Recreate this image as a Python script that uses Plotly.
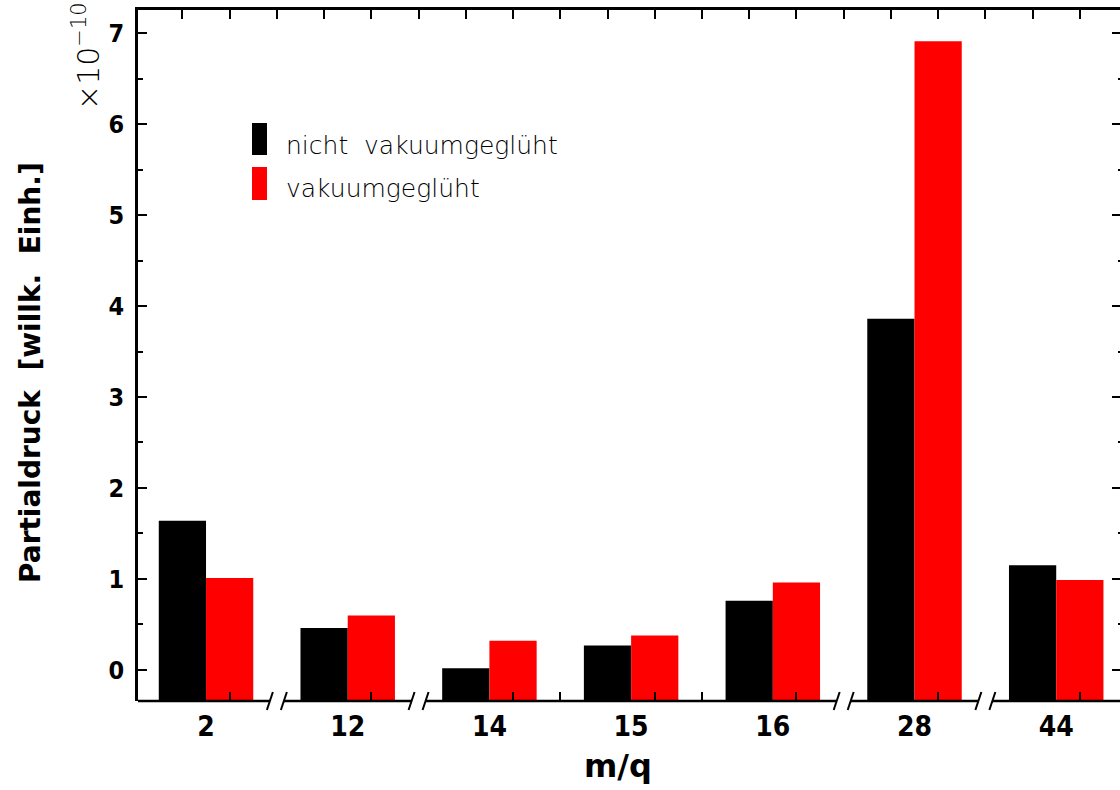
import plotly.graph_objects as go

# ---- data ----
categories = ["2", "12", "14", "15", "16", "28", "44"]
nicht_vakuumgegluht = [1.64, 0.46, 0.02, 0.27, 0.76, 3.86, 1.15]
vakuumgegluht = [1.01, 0.60, 0.32, 0.38, 0.96, 6.91, 0.99]
y_ticks = [0, 1, 2, 3, 4, 5, 6, 7]
series_names = ["nicht\u00a0\u00a0vakuumgeglüht", "vakuumgeglüht"]
exponent_label = "×10<sup>−10</sup>"

# ---- layout constants ----
W, H = 1120, 790
L, R, T, B = 138, 0, 10, 89
PW, PH = W - L - R, H - T - B
YMIN, YMAX = -0.341, 7.253
XMIN = -0.48
PX_PER_CAT = 141.7
XMAX = XMIN + PW / PX_PER_CAT

BOLD = "DejaVu Sans Condensed, Liberation Sans Narrow, Arial Narrow, sans-serif"
WIDE = "DejaVu Sans, Verdana, sans-serif"
THIN = "DejaVu Sans, sans-serif"

def px_x(px):
    return (px - L) / PW

def px_y(py):
    return (T + PH - py) / PH

xpos = list(range(len(categories)))

fig = go.Figure()
fig.add_trace(go.Bar(
    x=xpos, y=[v - YMIN for v in nicht_vakuumgegluht], base=YMIN,
    offset=-1/3, width=1/3, marker=dict(color="#000000", line=dict(width=0)),
    name=series_names[0], showlegend=False))
fig.add_trace(go.Bar(
    x=xpos, y=[v - YMIN for v in vakuumgegluht], base=YMIN,
    offset=0, width=1/3, marker=dict(color="#ff0000", line=dict(width=0)),
    name=series_names[1], showlegend=False))

# dummy traces to make overlay axes exist
fig.add_trace(go.Scatter(x=[None], y=[None], xaxis="x2", yaxis="y", showlegend=False, hoverinfo="skip"))
fig.add_trace(go.Scatter(x=[None], y=[None], xaxis="x3", yaxis="y", showlegend=False, hoverinfo="skip"))
fig.add_trace(go.Scatter(x=[None], y=[None], xaxis="x", yaxis="y2", showlegend=False, hoverinfo="skip"))

# minor tick positions along x (every third of a category)
all_ticks = [i / 3 - 1 / 6 for i in range(0, 21) if XMIN < i / 3 - 1 / 6 < XMAX]
# breaks between non-consecutive m/q values
cat_vals = [int(c) for c in categories]
breaks = [i + 0.5 for i in range(len(cat_vals) - 1) if cat_vals[i + 1] - cat_vals[i] > 1]
bottom_ticks = [t for t in all_ticks if all(abs(t - b) > 1e-6 for b in breaks)]

LW = 2.5
fig.update_layout(
    width=W, height=H,
    margin=dict(l=L, r=R, t=T, b=B),
    paper_bgcolor="white", plot_bgcolor="white",
    barmode="overlay",
    showlegend=False,
    xaxis=dict(range=[XMIN, XMAX], tickmode="array", tickvals=xpos, ticktext=categories,
               ticks="", showline=False, showgrid=False, zeroline=False,
               tickfont=dict(family=BOLD, size=28, color="black", weight="bold"),
               ticklabelstandoff=6, fixedrange=True),
    xaxis2=dict(range=[XMIN, XMAX], overlaying="x", anchor="y", side="bottom",
                tickmode="array", tickvals=bottom_ticks, ticks="inside", ticklen=9, tickwidth=2,
                tickcolor="black", showticklabels=False, showline=False, showgrid=False,
                zeroline=False, fixedrange=True),
    xaxis3=dict(range=[XMIN, XMAX], overlaying="x", anchor="y", side="top",
                tickmode="array", tickvals=all_ticks, ticks="inside", ticklen=9, tickwidth=2,
                tickcolor="black", showticklabels=False, showline=True, linecolor="black",
                linewidth=LW, showgrid=False, zeroline=False, fixedrange=True),
    yaxis=dict(range=[YMIN, YMAX], tickmode="array", tickvals=y_ticks,
               ticktext=[str(v) for v in y_ticks], ticks="inside", ticklen=9, tickwidth=2,
               tickcolor="black", minor=dict(dtick=0.5, tick0=0, ticks="inside", ticklen=5,
                                             tickwidth=2, tickcolor="black", showgrid=False),
               showline=True, linecolor="black", linewidth=LW, showgrid=False, zeroline=False,
               tickfont=dict(family=BOLD, size=25, color="black", weight="bold"),
               ticklabelstandoff=6, fixedrange=True),
    yaxis2=dict(range=[YMIN, YMAX], overlaying="y", anchor="x", side="right",
                tickmode="array", tickvals=y_ticks, ticks="inside", ticklen=8, tickwidth=2,
                tickcolor="black", minor=dict(dtick=0.5, tick0=0, ticks="inside", ticklen=2,
                                              tickwidth=2, tickcolor="black", showgrid=False),
                showticklabels=False, showline=True, linecolor="black", linewidth=LW,
                showgrid=False, zeroline=False, fixedrange=True),
)

# bottom axis line with breaks
shapes = []
seg_start = XMIN
slash_dx = 7 / PX_PER_CAT
slash_w = 3 / PX_PER_CAT
y_lo, y_hi = px_y(710), px_y(692)
for b in breaks:
    c1, c2 = b - slash_dx, b + slash_dx
    shapes.append(dict(type="line", xref="x", yref="paper", x0=seg_start, x1=c1, y0=0, y1=0,
                       line=dict(color="black", width=LW)))
    for c in (c1, c2):
        shapes.append(dict(type="line", xref="x", yref="paper", x0=c - slash_w, x1=c + slash_w,
                           y0=y_lo, y1=y_hi, line=dict(color="black", width=2)))
    seg_start = c2
shapes.append(dict(type="line", xref="x", yref="paper", x0=seg_start, x1=XMAX, y0=0, y1=0,
                   line=dict(color="black", width=LW)))

# legend markers
shapes.append(dict(type="rect", xref="paper", yref="paper", x0=px_x(252), x1=px_x(267),
                   y0=px_y(155), y1=px_y(123), fillcolor="#000000", line=dict(width=0)))
shapes.append(dict(type="rect", xref="paper", yref="paper", x0=px_x(252), x1=px_x(267),
                   y0=px_y(200), y1=px_y(167), fillcolor="#ff0000", line=dict(width=0)))
fig.update_layout(shapes=shapes)

annotations = [
    dict(text=series_names[0], xref="paper", yref="paper", x=px_x(284), y=px_y(145),
         xanchor="left", yanchor="middle", showarrow=False,
         font=dict(family=THIN, size=25, color="black", weight=300)),
    dict(text=series_names[1], xref="paper", yref="paper", x=px_x(284), y=px_y(188),
         xanchor="left", yanchor="middle", showarrow=False,
         font=dict(family=THIN, size=25, color="black", weight=300)),
    dict(text=exponent_label, xref="paper", yref="paper", x=px_x(86), y=px_y(56),
         xanchor="center", yanchor="middle", textangle=-90, showarrow=False,
         font=dict(family=THIN, size=30, color="black", weight=300)),
    dict(text="Partialdruck\u00a0\u00a0[willk.\u00a0\u00a0Einh.]", xref="paper", yref="paper",
         x=px_x(30), y=px_y(373), xanchor="center", yanchor="middle", textangle=-90,
         showarrow=False, font=dict(family=WIDE, size=28, color="black", weight="bold")),
    dict(text="m/q", xref="paper", yref="paper", x=px_x(618), y=px_y(766),
         xanchor="center", yanchor="middle", showarrow=False,
         font=dict(family=WIDE, size=32, color="black", weight="bold")),
]
fig.update_layout(annotations=annotations)

fig.write_html("out.html")
